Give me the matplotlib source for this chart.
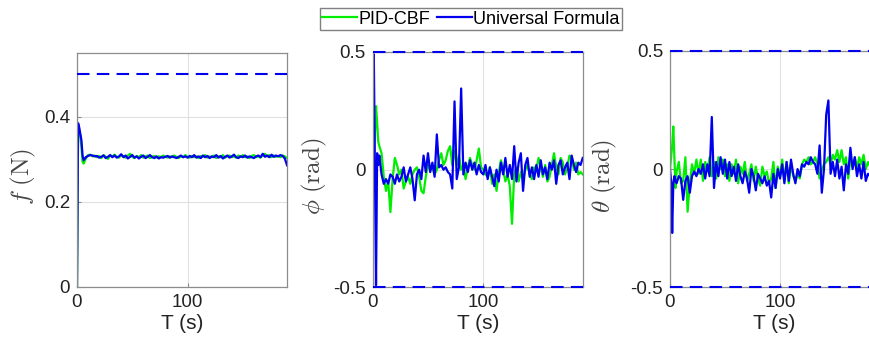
import numpy as np
import matplotlib
matplotlib.use('Agg')
import matplotlib.pyplot as plt

plt.rcParams['font.family'] = ['Liberation Sans', 'DejaVu Sans']
plt.rcParams['mathtext.fontset'] = 'cm'

# time grid [s]: fine during the start-up transient, 2 s afterwards
t = np.r_[0:7, 8:191:2]

# thrust f [N]
f_pid = [0, 0.38, 0.37, 0.355, 0.33, 0.295, 0.29,
         0.302, 0.31, 0.311, 0.307, 0.309, 0.305, 0.308, 0.303, 0.31, 0.306,
         0.301, 0.309, 0.307, 0.311, 0.306, 0.304, 0.31, 0.307, 0.304, 0.309,
         0.313, 0.306, 0.303, 0.308, 0.305, 0.31, 0.304, 0.307, 0.309, 0.303,
         0.306, 0.308, 0.304, 0.307, 0.305, 0.309, 0.306, 0.304, 0.307, 0.305,
         0.309, 0.306, 0.303, 0.307, 0.305, 0.31, 0.306, 0.304, 0.308, 0.305,
         0.307, 0.303, 0.308, 0.306, 0.31, 0.304, 0.307, 0.305, 0.309, 0.303,
         0.307, 0.305, 0.31, 0.304, 0.307, 0.309, 0.305, 0.307, 0.304, 0.309,
         0.306, 0.31, 0.305, 0.307, 0.303, 0.308, 0.31, 0.305, 0.307, 0.304,
         0.309, 0.313, 0.307, 0.31, 0.305, 0.309, 0.306, 0.308, 0.305, 0.309,
         0.307, 0.303]
f_uf = [0, 0.385, 0.375, 0.36, 0.345, 0.31, 0.298,
        0.305, 0.308, 0.31, 0.309, 0.307, 0.308, 0.304, 0.306, 0.309, 0.303,
        0.306, 0.31, 0.305, 0.309, 0.304, 0.307, 0.312, 0.305, 0.309, 0.302,
        0.306, 0.31, 0.304, 0.307, 0.302, 0.306, 0.309, 0.303, 0.306, 0.31,
        0.305, 0.303, 0.307, 0.302, 0.305, 0.304, 0.306, 0.308, 0.304, 0.307,
        0.305, 0.303, 0.306, 0.309, 0.305, 0.307, 0.304, 0.308, 0.305, 0.31,
        0.304, 0.307, 0.303, 0.309, 0.305, 0.308, 0.303, 0.307, 0.305, 0.31,
        0.304, 0.308, 0.302, 0.306, 0.309, 0.304, 0.307, 0.311, 0.305, 0.303,
        0.307, 0.305, 0.309, 0.304, 0.307, 0.305, 0.303, 0.307, 0.309, 0.305,
        0.313, 0.306, 0.309, 0.305, 0.311, 0.306, 0.309, 0.307, 0.31, 0.308,
        0.302, 0.286]
f_max = 0.5

# roll angle phi [rad]
phi_pid = [0, 0.05, 0.15, 0.27, 0.2, 0.12, 0.1,
           0.07, -0.03, -0.09, -0.05, -0.18, -0.04, 0.05, 0.02, -0.02, 0.0,
           -0.08, -0.05, -0.03, -0.06, -0.02, 0.0, 0.01, -0.03, -0.09, -0.1,
           -0.03, 0.02, 0.0, 0.01, -0.02, 0.0, 0.04, 0.07, 0.02, 0.04,
           0.08, 0.1, 0.02, 0.08, 0.02, 0.06, 0.0, 0.02, -0.04, 0.01,
           0.05, 0.02, 0.0, 0.04, 0.09, 0.01, 0.0, -0.02, -0.03, 0.01,
           -0.06, -0.02, -0.09, -0.01, 0.04, 0.0, -0.05, -0.02, -0.07, -0.23,
           -0.02, 0.01, -0.05, -0.01, -0.04, 0.0, 0.02, -0.02, -0.04, 0.01,
           0.0, 0.05, 0.01, -0.03, 0.02, -0.05, -0.03, 0.02, 0.07, 0.01,
           -0.02, 0.05, 0.03, -0.02, 0.01, 0.06, 0.05, 0.0, 0.03, -0.02,
           -0.01, -0.02]
phi_uf = [0, 0.49, 0.0, -0.49, 0.07, 0.02, 0.06,
          -0.02, -0.06, -0.04, -0.06, -0.02, -0.03, -0.06, -0.02, -0.05, -0.03,
          0.01, -0.05, -0.02, 0.01, -0.04, -0.13, -0.02, 0.0, -0.04, 0.06,
          -0.01, 0.07, -0.01, 0.03, -0.03, 0.15, 0.01, 0.02, 0.0, 0.01,
          -0.01, -0.02, -0.08, 0.29, -0.04, 0.01, 0.345, -0.02, 0.03, -0.01,
          0.04, 0.0, 0.03, -0.02, 0.02, -0.01, -0.02, 0.02, -0.04, 0.01,
          -0.03, -0.07, 0.0, -0.05, 0.03, -0.02, 0.05, -0.03, 0.02, -0.04,
          0.1, -0.05, 0.03, 0.07, -0.09, 0.02, 0.05, -0.03, 0.01, -0.04,
          0.02, -0.03, 0.04, -0.02, 0.01, -0.04, 0.03, 0.0, 0.04, -0.06,
          0.02, 0.04, -0.02, 0.01, 0.03, -0.04, 0.06, 0.02, -0.01, 0.03,
          0.02, 0.05]

# pitch angle theta [rad]
theta_pid = [0, 0.05, 0.1, 0.18, 0.05, -0.08, -0.01,
             0.03, -0.06, -0.05, 0.05, -0.18, -0.06, 0.02, -0.02, 0.04, -0.02,
             0.04, -0.05, 0.03, -0.01, 0.05, -0.03, 0.03, -0.04, 0.05, 0.0,
             0.04, -0.03, 0.02, -0.05, 0.02, -0.02, 0.04, -0.06, 0.01, -0.02,
             0.03, -0.05, -0.02, 0.02, -0.05, 0.01, -0.04, -0.07, 0.01, -0.03,
             -0.01, -0.06, -0.04, 0.03, -0.08, 0.01, -0.03, 0.04, -0.05, 0.03,
             -0.06, 0.02, -0.03, -0.05, -0.02, -0.04, 0.02, 0.04, 0.03, 0.05,
             0.02, 0.03, 0.05, 0.02, -0.04, 0.0, 0.02, 0.03, 0.05, 0.02,
             0.06, 0.04, 0.08, 0.03, 0.08, 0.02, 0.05, -0.04, 0.04, 0.01,
             0.05, 0.0, 0.05, 0.02, 0.06, 0.0, 0.03, 0.01, 0.04, 0.0,
             0.02, 0.0]
theta_uf = [0, -0.05, -0.27, -0.06, -0.03, -0.05, -0.06,
            -0.03, -0.04, -0.13, -0.05, -0.03, -0.1, -0.03, -0.01, -0.03, 0.0,
            -0.02, 0.02, -0.04, 0.02, -0.03, 0.22, -0.08, 0.03, -0.03, 0.05,
            -0.02, 0.04, -0.04, 0.03, -0.03, 0.01, -0.05, 0.02, -0.03, -0.06,
            -0.01, -0.04, -0.1, 0.0, -0.03, -0.09, -0.02, -0.04, -0.06, -0.03,
            -0.07, -0.05, -0.12, -0.02, -0.08, 0.0, -0.04, 0.02, -0.06, 0.03,
            -0.05, 0.04, -0.02, -0.06, 0.0, -0.03, 0.02, 0.01, 0.03, 0.02,
            0.05, 0.03, 0.02, -0.02, 0.1, -0.1, 0.0, 0.23, 0.29, -0.02,
            0.03, -0.03, 0.04, -0.04, 0.01, -0.09, 0.02, -0.02, 0.09, 0.0,
            0.05, -0.03, 0.02, -0.04, 0.03, -0.05, -0.02, -0.03, 0.01, -0.03,
            -0.01, -0.02]
ang_max = 0.5

green = '#00ee00'
blue = '#0000ee'
spine_col = '0.55'

fig = plt.figure(figsize=(8.69, 3.52), dpi=100)
ax1 = fig.add_axes([0.0886, 0.1847, 0.2417, 0.6648])
ax2 = fig.add_axes([0.4289, 0.1835, 0.2417, 0.6688])
ax3 = fig.add_axes([0.771, 0.1835, 0.2405, 0.6724])

panels = [
    (ax1, f_pid, f_uf, [f_max], (0, 0.55), [0, 0.2, 0.4], ['0', '0.2', '0.4'],
     r'$f\ \mathrm{(N)}$', 38),
    (ax2, phi_pid, phi_uf, [ang_max, -ang_max], (-0.5, 0.5), [-0.5, 0, 0.5],
     ['-0.5', '0', '0.5'], r'$\phi\ \mathrm{(rad)}$', 329),
    (ax3, theta_pid, theta_uf, [ang_max, -ang_max], (-0.5, 0.5), [-0.5, 0, 0.5],
     ['-0.5', '0', '0.5'], r'$\theta\ \mathrm{(rad)}$', 619),
]

for ax, y_pid, y_uf, bounds, ylim, yt, ytl, ylab, ylab_x in panels:
    ax.grid(True, color='0.88', linewidth=0.8)
    ax.set_axisbelow(True)
    l1, = ax.plot(t, y_pid, color=green, linewidth=1.6, label='PID-CBF')
    l2, = ax.plot(t, y_uf, color=blue, linewidth=1.6, label='Universal Formula')
    for b in bounds:
        ax.axhline(b, color=blue, linewidth=1.5, dashes=(6, 3.5), clip_on=False, zorder=5)
    ax.set_xlim(0, 190)
    ax.set_ylim(*ylim)
    ax.set_xticks([0, 100])
    ax.set_xticklabels(['0', '100'])
    ax.set_yticks(yt)
    ax.set_yticklabels(ytl)
    ax.tick_params(axis='both', labelsize=13.5, direction='in', length=3,
                   color=spine_col, pad=5, labelcolor='#222222')
    for s in ax.spines.values():
        s.set_color(spine_col)
        s.set_linewidth(0.9)
    ax.set_xlabel('T (s)', fontsize=15, color='#222222', labelpad=2)
    ax.set_ylabel(ylab, fontsize=18, color='#444444')
    ax.yaxis.set_label_coords(ylab_x / 869, 0.5, transform=fig.transFigure)

fig.legend([l1, l2], ['PID-CBF', 'Universal Formula'], loc='upper center',
           bbox_to_anchor=(471 / 869, 1 - 8 / 352), ncol=2, fontsize=13,
           frameon=True, fancybox=False, edgecolor='0.5', framealpha=1,
           borderpad=0.15, handlelength=1.9, handletextpad=0.1,
           columnspacing=0.4, borderaxespad=0)

fig.savefig('out.png', dpi=100)
